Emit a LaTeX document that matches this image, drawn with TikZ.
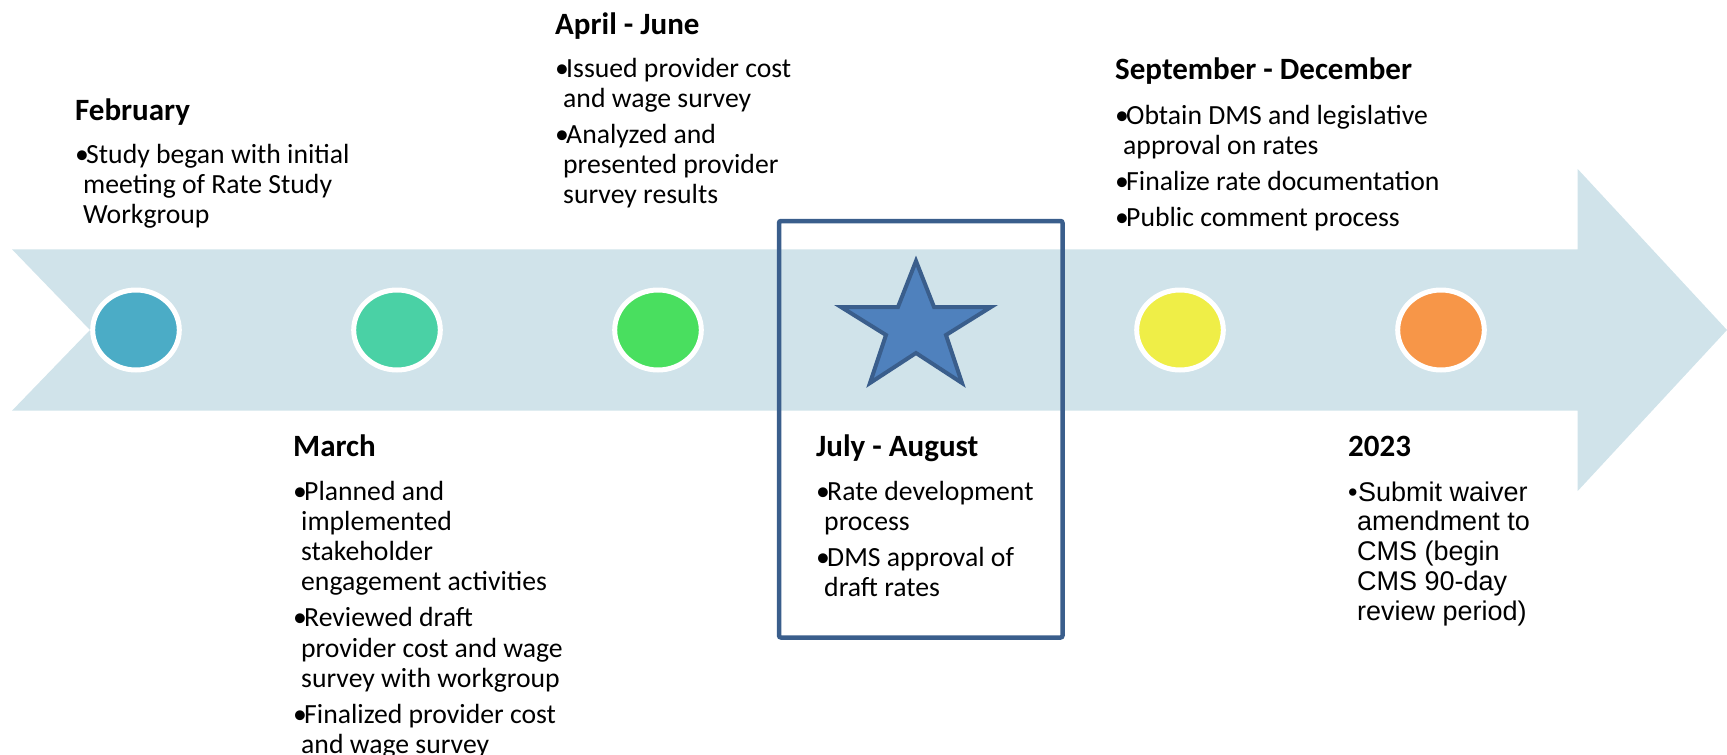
\documentclass[tikz,border=0pt]{standalone}
\usepackage{fontspec}
\setmainfont{Carlito}
\newfontfamily\arialf{Liberation Sans}
\usetikzlibrary{shapes.geometric}
\definecolor{bandc}{HTML}{D0E3EA}
\definecolor{cA}{HTML}{4BACC6}
\definecolor{cB}{HTML}{4AD1A5}
\definecolor{cC}{HTML}{49DF5F}
\definecolor{cD}{HTML}{EFEE47}
\definecolor{cE}{HTML}{F79648}
\definecolor{starfill}{HTML}{4F81BD}
\definecolor{navy}{HTML}{3A5E8C}
\newcommand\bu{\makebox[11pt][l]{•}}
\newcommand\ci{\hspace*{8pt}}
\newcommand\blk[1]{\parbox[t]{500pt}{\fontsize{27.7}{30.2}\selectfont\setlength\parskip{6pt}\raggedright #1}}
\newcommand\blkA[1]{\parbox[t]{500pt}{\arialf\fontsize{27}{29.8}\selectfont\setlength\parskip{6pt}\raggedright #1}}
\tikzset{
  head/.style={anchor=base west, inner sep=0pt, font=\fontsize{31}{34}\selectfont\bfseries},
  body/.style={anchor=base west, inner sep=0pt},
  dot/.style={ellipse, draw=white, line width=5pt, minimum width=86.6pt, minimum height=80pt, inner sep=0pt},
}
\begin{document}
\begin{tikzpicture}[x=1pt,y=-1pt]
\useasboundingbox (0,0) rectangle (1727,755);
% band arrow
\fill[bandc] (12,249.3) -- (1577.7,249.3) -- (1577.7,169) -- (1727,330) -- (1577.7,491) -- (1577.7,410.7) -- (12,410.7) -- (90,330) -- cycle;
% milestones
\node[dot, fill=cA] (m1) at (136,330) {};
\node[dot, fill=cB] (m2) at (397,330) {};
\node[dot, fill=cC] (m3) at (658,330) {};
\node[dot, fill=cD] (m5) at (1180,330) {};
\node[dot, fill=cE] (m6) at (1441,330) {};
% star
\draw[fill=starfill, draw=navy, line width=4pt, line join=miter]
  (916,261) -- (934,307) -- (991,307) -- (946,335) -- (962,383) -- (916,353) -- (870,383) -- (886,335) -- (841,307) -- (898,307) -- cycle;
% highlight box
\draw[navy, line width=4.5pt, rounded corners=2pt] (779,221) rectangle (1062.5,637.5);
% February
\node[head] (h1) at (75,120) {February};
\node[body] (b1) at (75,163) {\blk{\bu Study began with initial\\\ci meeting of Rate Study\\\ci Workgroup}};
% March
\node[head] (h2) at (293,456) {March};
\node[body] (b2) at (293,500) {\blk{\bu Planned and\\\ci implemented\\\ci stakeholder\\\ci engagement activities\par
\bu Reviewed draft\\\ci provider cost and wage\\\ci survey with workgroup\par
\bu Finalized provider cost\\\ci and wage survey}};
% April - June
\node[head] (h3) at (555,34) {April - June};
\node[body] (b3) at (555,77) {\blk{\bu Issued provider cost\\\ci and wage survey\par
\bu Analyzed and\\\ci presented provider\\\ci survey results}};
% July - August
\node[head] (h4) at (816,456) {July - August};
\node[body] (b4) at (816,500) {\blk{\bu Rate development\\\ci process\par
\bu DMS approval of\\\ci draft rates}};
% September - December
\node[head] (h5) at (1115,79) {September - December};
\node[body] (b5) at (1115,124) {\blk{\bu Obtain DMS and legislative\\\ci approval on rates\par
\bu Finalize rate documentation\par
\bu Public comment process}};
% 2023
\node[head] (h6) at (1348,456) {2023};
\node[body] (b6) at (1348,501) {\blkA{\makebox[10pt][l]{•}Submit waiver\\\hspace*{9pt}amendment to\\\hspace*{9pt}CMS (begin\\\hspace*{9pt}CMS 90-day\\\hspace*{9pt}review period)}};
\end{tikzpicture}
\end{document}
